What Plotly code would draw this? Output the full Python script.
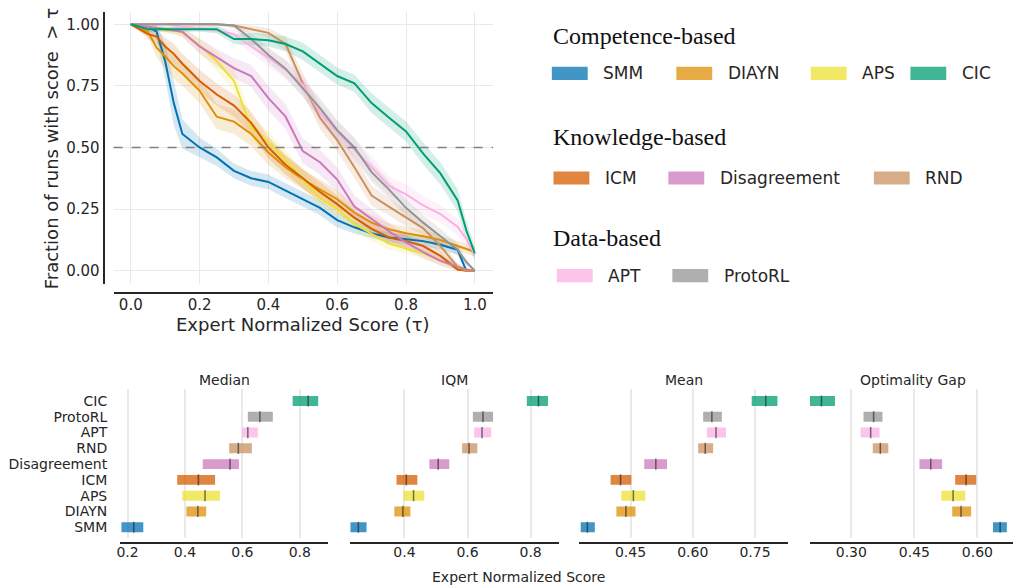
import plotly.graph_objects as go

W, H = 1013, 586
FONT = "DejaVu Sans"
TXT = "#262626"
GRID = "#e9e9e9"

# ---------------- data ----------------
ALGOS = ["SMM", "DIAYN", "APS", "ICM", "Disagreement", "RND", "APT", "ProtoRL", "CIC"]
COLORS = {
    "SMM": "#0173b2", "DIAYN": "#de8f05", "APS": "#ece133", "CIC": "#029e73",
    "ICM": "#d55e00", "Disagreement": "#cc78bc", "RND": "#ca9161",
    "APT": "#fbafe4", "ProtoRL": "#949494",
}

TAU = [0, .05, .075, .1, .125, .15, .2, .25, .3, .35, .4, .45, .5, .55, .6, .65,
       .7, .75, .8, .85, .9, .95, .975, 1.0]

SMM_F = [1.0, .99, .97, .85, .68, .555, .50, .46, .405, .375, .36, .325, .29, .255,
         .205, .176, .152, .135, .128, .12, .105, .085, 0.0, 0.0]
SMM_HW = [0, .01, .03, .07, .09, .06, .04, .035, .03, .03, .03, .03, .03, .03, .03,
          .025, .02, .02, .02, .02, .02, .02, .01, 0]
DIAYN_F = [1.0, .97, .905, .87, .83, .80, .73, .625, .605, .555, .48, .42, .37, .33,
           .29, .235, .195, .168, .152, .14, .125, .10, .09, .077]
DIAYN_HW = [0, .02, .04, .05, .05, .05, .05, .05, .05, .05, .05, .045, .04, .04, .035,
            .03, .03, .025, .025, .025, .02, .02, .02, .02]
APS_F = [1.0, .99, .985, .975, .975, .965, .915, .85, .77, .58, .52, .45, .37, .295,
         .25, .19, .15, .11, .09, .07, .04, .01, 0, 0]
APS_HW = [0, .01, .01, .015, .015, .02, .03, .04, .045, .05, .045, .04, .04, .035, .03,
          .03, .03, .025, .02, .02, .02, .01, .005, 0]
CIC_F = [1.0, .98, .98, .98, .98, .98, .98, .98, .94, .94, .935, .92, .89, .84, .79,
         .76, .68, .622, .565, .475, .395, .285, .165, .07]
CIC_HW = [0, .01, .01, .01, .01, .01, .01, .015, .02, .025, .025, .03, .035, .035, .035,
          .035, .04, .04, .04, .045, .045, .045, .04, .03]
ICM_F = [1.0, .96, .95, .91, .88, .84, .77, .715, .67, .60, .50, .43, .375, .32, .27,
         .215, .17, .135, .12, .10, .06, .005, 0, 0]
ICM_HW = [0, .02, .03, .035, .04, .04, .045, .045, .045, .045, .045, .04, .04, .04, .035,
          .03, .03, .025, .025, .025, .02, .01, 0, 0]
DIS_F = [1.0, .99, .985, .98, .975, .97, .91, .865, .822, .79, .70, .625, .485, .44,
         .37, .26, .21, .16, .115, .075, .04, .015, .005, 0]
DIS_HW = [0, .01, .01, .01, .015, .02, .03, .035, .04, .045, .05, .05, .05, .05, .05,
          .045, .04, .035, .03, .025, .02, .015, .01, 0]
RND_F = [1, 1, 1, 1, 1, 1, 1, 1, .995, .98, .965, .92, .76, .62, .53, .42, .305, .26,
         .215, .172, .10, .015, 0, 0]
RND_HW = [0, 0, 0, 0, 0, 0, .005, .005, .01, .015, .02, .03, .04, .045, .045, .045, .04,
          .035, .035, .03, .03, .015, .005, 0]
PROTO_F = [1, 1, 1, 1, 1, 1, 1, 1, .995, .94, .875, .82, .74, .66, .57, .50, .40, .33,
           .255, .195, .14, .085, .035, 0]
PROTO_HW = [0, 0, 0, 0, 0, 0, .005, .005, .01, .025, .03, .035, .035, .04, .04, .04, .04,
            .035, .035, .03, .03, .025, .015, 0]
APT_F = [1, 1, 1, 1, .995, .99, .985, .975, .96, .91, .865, .815, .755, .64, .565, .49,
         .42, .345, .31, .265, .23, .178, .13, .065]
APT_HW = [0, 0, 0, 0, .005, .005, .01, .015, .02, .03, .035, .04, .045, .045, .045, .045,
          .045, .04, .04, .04, .035, .035, .03, .02]

PROFILES = {
    "SMM": (SMM_F, SMM_HW), "DIAYN": (DIAYN_F, DIAYN_HW), "APS": (APS_F, APS_HW),
    "ICM": (ICM_F, ICM_HW), "Disagreement": (DIS_F, DIS_HW), "RND": (RND_F, RND_HW),
    "APT": (APT_F, APT_HW), "ProtoRL": (PROTO_F, PROTO_HW), "CIC": (CIC_F, CIC_HW),
}

# interval estimates, order = ALGOS (bottom to top)
MEDIAN_LO = [.179, .405, .391, .373, .462, .554, .599, .619, .775]
MEDIAN_HI = [.255, .474, .522, .505, .588, .633, .654, .706, .864]
MEDIAN_PT = [.222, .445, .470, .447, .557, .586, .619, .661, .829]
IQM_LO = [.229, .368, .397, .375, .479, .583, .621, .617, .788]
IQM_HI = [.280, .419, .463, .441, .542, .631, .675, .681, .855]
IQM_PT = [.254, .395, .429, .406, .507, .605, .646, .649, .825]
MEAN_LO = [.330, .416, .428, .402, .483, .613, .634, .625, .742]
MEAN_HI = [.364, .462, .486, .452, .538, .649, .680, .670, .804]
MEAN_PT = [.346, .439, .457, .426, .511, .630, .656, .646, .776]
OG_LO = [.637, .540, .514, .547, .462, .351, .322, .329, .201]
OG_HI = [.670, .585, .571, .597, .516, .388, .367, .374, .261]
OG_PT = [.654, .561, .542, .573, .489, .369, .346, .353, .229]

METRICS = ["Median", "IQM", "Mean", "Optimality Gap"]
METRIC_DATA = [(MEDIAN_LO, MEDIAN_HI, MEDIAN_PT), (IQM_LO, IQM_HI, IQM_PT),
               (MEAN_LO, MEAN_HI, MEAN_PT), (OG_LO, OG_HI, OG_PT)]
METRIC_TICKS = [[0.2, 0.4, 0.6, 0.8], [0.4, 0.6, 0.8], [0.45, 0.60, 0.75], [0.30, 0.45, 0.60]]
METRIC_FMT = [".1f", ".1f", ".2f", ".2f"]

LEGEND_GROUPS = [
    ("Competence-based", ["SMM", "DIAYN", "APS", "CIC"]),
    ("Knowledge-based", ["ICM", "Disagreement", "RND"]),
    ("Data-based", ["APT", "ProtoRL"]),
]


def px(x):
    return x / W


def py(y):
    return 1 - y / H


def rgba(hexc, a):
    h = hexc.lstrip("#")
    r, g, b = int(h[0:2], 16), int(h[2:4], 16), int(h[4:6], 16)
    return f"rgba({r},{g},{b},{a})"


fig = go.Figure()

# ---------------- performance profiles ----------------
for name in ALGOS:
    f, hw = PROFILES[name]
    hi = [min(v + w, 1.0) for v, w in zip(f, hw)]
    lo = [max(v - w, 0.0) for v, w in zip(f, hw)]
    fig.add_trace(go.Scatter(
        x=TAU + TAU[::-1], y=hi + lo[::-1], fill="toself", mode="none",
        fillcolor=rgba(COLORS[name], 0.17), hoverinfo="skip", showlegend=False,
        xaxis="x", yaxis="y"))
for name in ALGOS:
    f, _ = PROFILES[name]
    fig.add_trace(go.Scatter(
        x=TAU, y=f, mode="lines", line=dict(color=COLORS[name], width=2),
        name=name, showlegend=False, xaxis="x", yaxis="y"))

fig.add_shape(type="line", xref="x domain", yref="y", x0=0, x1=1, y0=0.5, y1=0.5,
              line=dict(color="#7f7f7f", width=1.4, dash="dash"))

axis_common = dict(showline=True, linecolor=TXT, linewidth=2, ticks="",
                   zeroline=False, tickfont=dict(family=FONT, size=15, color=TXT))

layout = dict(
    width=W, height=H, margin=dict(l=0, r=0, t=0, b=0),
    paper_bgcolor="white", plot_bgcolor="white", showlegend=False,
    font=dict(family=FONT, color=TXT),
    xaxis=dict(domain=[px(110), px(491)], range=[-0.05, 1.053], anchor="free",
               position=py(293), tickvals=[0, .2, .4, .6, .8, 1.0], tickformat=".1f",
               showgrid=True, gridcolor=GRID, gridwidth=1, ticklabelstandoff=-2,
               **axis_common),
    yaxis=dict(domain=[py(284), py(11.7)], range=[-0.054, 1.051], anchor="free",
               position=px(100), tickvals=[0, .25, .5, .75, 1.0], tickformat=".2f",
               showgrid=True, gridcolor=GRID, gridwidth=1, **axis_common),
)

# ---------------- interval estimate panels ----------------
PANEL_PX = [(116.7, 325.7), (347.3, 556.7), (577.7, 787.3), (809, 1013)]
PANEL_RANGE = [(0.1747, 0.8996), (0.2273, 0.8884), (0.3269, 0.8299), (0.2012, 0.6846)]
YIDX = list(range(len(ALGOS)))
bar_colors = [rgba(COLORS[a], 0.75) for a in ALGOS]

for k, (metric, (lo, hi, pt)) in enumerate(zip(METRICS, METRIC_DATA)):
    xa, ya = f"x{k + 2}", f"y{k + 2}"
    fig.add_trace(go.Bar(
        y=YIDX, x=[h - l for l, h in zip(lo, hi)], base=lo, orientation="h",
        width=0.63, marker=dict(color=bar_colors, line=dict(width=0)),
        showlegend=False, xaxis=xa, yaxis=ya))
    fig.add_trace(go.Scatter(
        y=YIDX, x=pt, mode="markers",
        marker=dict(symbol="line-ns", size=8,
                    line=dict(width=1.5, color="rgba(30,30,30,0.6)")),
        showlegend=False, xaxis=xa, yaxis=ya))
    x0, x1 = PANEL_PX[k]
    layout[f"xaxis{k + 2}"] = dict(
        domain=[px(x0), px(x1)], range=list(PANEL_RANGE[k]), anchor="free",
        position=py(542.7), tickvals=METRIC_TICKS[k], tickformat=METRIC_FMT[k],
        showgrid=True, gridcolor=GRID, gridwidth=1.5, showline=True, linecolor=TXT,
        linewidth=2, ticks="", zeroline=False, ticklabelstandoff=-4,
        tickfont=dict(family=FONT, size=14, color=TXT))
    layout[f"yaxis{k + 2}"] = dict(
        domain=[py(538.3), py(389.3)], range=[-0.7, 8.74], anchor=xa,
        tickvals=YIDX, ticktext=ALGOS, showticklabels=(k == 0), showgrid=False,
        showline=False, zeroline=False, ticks="", ticklabelstandoff=12,
        tickfont=dict(family=FONT, size=14, color=TXT))

fig.update_layout(**layout)

annotations = []
shapes = []
# axis titles
annotations.append(dict(text="Expert Normalized Score (τ)", x=px(300.5), y=py(324),
                        xref="paper", yref="paper", showarrow=False,
                        font=dict(family=FONT, size=18, color=TXT),
                        xanchor="center", yanchor="middle"))
annotations.append(dict(text="Fraction of runs with score  > τ", x=px(48), y=py(148.5),
                        xref="paper", yref="paper", showarrow=False, textangle=-90,
                        font=dict(family=FONT, size=18, color=TXT),
                        xanchor="center", yanchor="middle"))
annotations.append(dict(text="Expert Normalized Score", x=px(517), y=py(577),
                        xref="paper", yref="paper", showarrow=False,
                        font=dict(family=FONT, size=14, color=TXT),
                        xanchor="center", yanchor="middle"))
TITLE_X = [221, 452, 682.5, 913]
for t, xc in zip(METRICS, TITLE_X):
    annotations.append(dict(text=t, x=px(xc), y=py(380), xref="paper", yref="paper",
                            showarrow=False, font=dict(family=FONT, size=14, color=TXT),
                            xanchor="center", yanchor="middle"))

# custom grouped legend
HEADER_Y = [36, 137, 238]
ROW_Y = [73.3, 178, 275.7]
PATCH_X = [[550, 675, 810, 910], [551.7, 667, 873.3], [555, 671]]
for (header, members), hy, ry, pxs in zip(LEGEND_GROUPS, HEADER_Y, ROW_Y, PATCH_X):
    annotations.append(dict(text=header, x=px(549), y=py(hy), xref="paper", yref="paper",
                            showarrow=False, xanchor="left", yanchor="middle",
                            font=dict(family="Liberation Serif", size=24, color="#111")))
    for name, x0 in zip(members, pxs):
        shapes.append(dict(type="rect", xref="paper", yref="paper",
                           x0=px(x0), x1=px(x0 + 36), y0=py(ry + 6.6), y1=py(ry - 6.6),
                           fillcolor=rgba(COLORS[name], 0.75), line=dict(width=0)))
        annotations.append(dict(text=name, x=px(x0 + 49.5), y=py(ry), xref="paper",
                                yref="paper", showarrow=False, xanchor="left",
                                yanchor="middle",
                                font=dict(family=FONT, size=17, color=TXT)))

fig.update_layout(annotations=annotations)
for s in shapes:
    fig.add_shape(**s)

fig.write_html("out.html", config={"displayModeBar": False},
               post_script="document.body.style.margin='0px';"
                           "document.documentElement.style.overflow='hidden';")
